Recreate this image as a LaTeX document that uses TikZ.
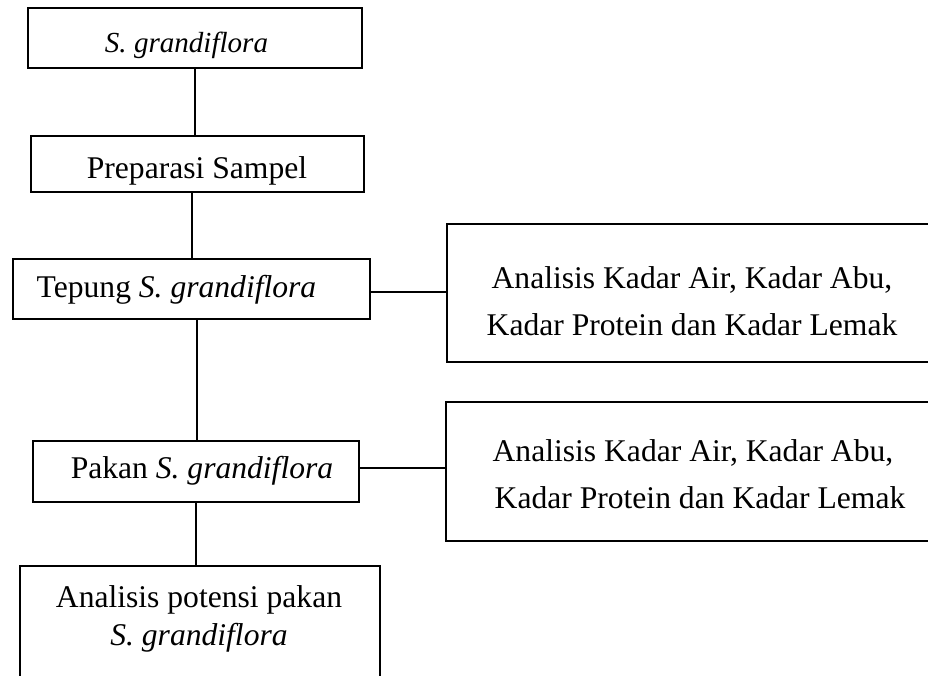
\documentclass[tikz,border=0pt]{standalone}
\usepackage{fontspec}
\setmainfont{Liberation Serif}
\begin{document}
\begin{tikzpicture}[x=0.75pt,y=-0.75pt,
  box/.style={draw,line width=1.4pt,rectangle,inner sep=0pt},
  conn/.style={line width=1pt},
  txt/.style={inner sep=0pt,anchor=base,font=\fontsize{23.7}{28}\selectfont}]
\useasboundingbox (0,0) rectangle (928,675);
\clip (0,0) rectangle (928,675);
% boxes
\node[box,minimum width=250.5pt,minimum height=45pt] (b1) at (195,38) {};
\node[box,minimum width=249.75pt,minimum height=42pt] (b2) at (197.5,164) {};
\node[box,minimum width=267.75pt,minimum height=45pt] (b3) at (191.5,289) {};
\node[box,minimum width=244.5pt,minimum height=45.75pt] (b4) at (196,471.5) {};
\node[box,minimum width=270pt,minimum height=100.5pt] (b5) at (200,633) {};
\node[box,minimum width=377.25pt,minimum height=103.5pt] (ra) at (698.5,293) {};
\node[box,minimum width=378pt,minimum height=104.25pt] (rb) at (698,471.5) {};
% texts
\node[txt,font=\fontsize{21.8}{26}\selectfont] (t1) at (186.5,52) {\textit{S. grandiflora}};
\node[txt] (t2) at (197,178) {Preparasi Sampel};
\node[txt] (t3) at (176.5,297) {Tepung \textit{S. grandiflora}};
\node[txt] (t4) at (202,478) {Pakan \textit{S. grandiflora}};
\node[txt] (t5a) at (199,607) {Analisis potensi pakan};
\node[txt] (t5b) at (199,645) {\textit{S. grandiflora}};
\node[txt] (ta1) at (692,288) {Analisis Kadar Air, Kadar Abu,};
\node[txt] (ta2) at (692,335) {Kadar Protein dan Kadar Lemak};
\node[txt] (tb1) at (693,461) {Analisis Kadar Air, Kadar Abu,};
\node[txt] (tb2) at (700,508) {Kadar Protein dan Kadar Lemak};
% connectors
\draw[conn] (b1.south -| 195,0) -- (b2.north -| 195,0);
\draw[conn] (b2.south -| 192,0) -- (b3.north -| 192,0);
\draw[conn] (b3.south -| 197,0) -- (b4.north -| 197,0);
\draw[conn] (b4.south -| 196,0) -- (b5.north -| 196,0);
\draw[conn] (b3.east |- 0,292) -- (ra.west |- 0,292);
\draw[conn] (b4.east |- 0,468) -- (rb.west |- 0,468);
\end{tikzpicture}
\end{document}
